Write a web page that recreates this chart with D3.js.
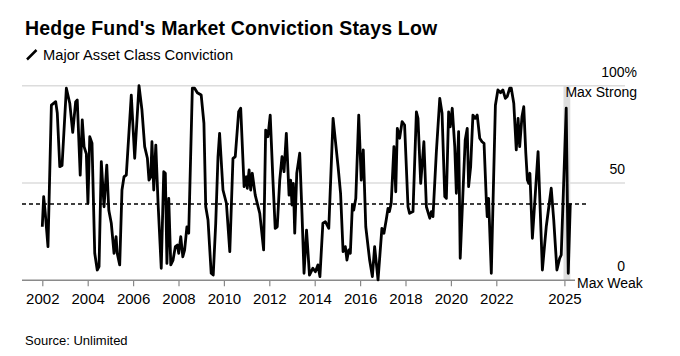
<!DOCTYPE html>
<html><head><meta charset="utf-8">
<script src="https://cdn.jsdelivr.net/npm/d3@7"></script>
<style>
body{margin:0;background:#fff;}
svg{display:block;font-family:"Liberation Sans",Arial,Helvetica,sans-serif;}
</style>
</head><body>
<svg id="chart" width="680" height="356"></svg>
<script>
// Observation dates (decimal years) and conviction values (%)
const dates = [
2002.00,2002.06,2002.13,2002.25,2002.40,2002.59,2002.66,2002.77,2002.87,2003.06,
2003.21,2003.34,2003.47,2003.54,2003.67,2003.76,2003.84,2003.94,2004.01,2004.09,
2004.19,2004.31,2004.42,2004.50,2004.60,2004.72,2004.84,2004.93,2005.04,2005.16,
2005.25,2005.30,2005.41,2005.51,2005.60,2005.70,2005.92,2006.07,2006.26,2006.39,
2006.51,2006.63,2006.70,2006.78,2006.83,2006.91,2007.00,2007.10,2007.24,2007.35,
2007.42,2007.49,2007.57,2007.66,2007.76,2007.86,2007.95,2008.01,2008.10,2008.19,
2008.27,2008.37,2008.45,2008.61,2008.71,2008.83,2009.00,2009.12,2009.20,2009.30,
2009.44,2009.53,2009.64,2009.74,2009.81,2009.96,2010.11,2010.26,2010.40,2010.50,
2010.65,2010.74,2010.89,2010.99,2011.03,2011.11,2011.18,2011.25,2011.38,2011.58,
2011.75,2011.84,2011.94,2012.04,2012.16,2012.26,2012.35,2012.46,2012.56,2012.65,
2012.75,2012.87,2012.94,2013.00,2013.06,2013.12,2013.21,2013.34,2013.44,2013.53,
2013.64,2013.77,2013.92,2014.03,2014.14,2014.23,2014.36,2014.47,2014.62,2014.81,
2015.03,2015.14,2015.25,2015.35,2015.42,2015.50,2015.57,2015.66,2015.72,2015.81,
2015.94,2016.05,2016.14,2016.25,2016.42,2016.54,2016.64,2016.79,2016.96,2017.05,
2017.15,2017.23,2017.29,2017.37,2017.49,2017.57,2017.64,2017.74,2017.85,2017.96,
2018.11,2018.18,2018.33,2018.48,2018.55,2018.67,2018.81,2018.92,2019.07,2019.14,
2019.21,2019.36,2019.51,2019.61,2019.73,2019.80,2019.90,2019.97,2020.06,2020.17,
2020.24,2020.34,2020.41,2020.53,2020.63,2020.72,2020.78,2020.87,2020.97,2021.07,
2021.16,2021.27,2021.37,2021.46,2021.56,2021.60,2021.66,2021.78,2021.96,2022.07,
2022.19,2022.29,2022.40,2022.48,2022.59,2022.66,2022.77,2022.88,2022.96,2023.03,
2023.13,2023.21,2023.30,2023.37,2023.43,2023.48,2023.59,2023.72,2023.84,2023.94,
2024.03,2024.20,2024.42,2024.53,2024.67,2024.79,2024.86,2025.08,2025.17,2025.26
];
const values = [
27.5,43,34.6,17.3,90,91.8,86,58.4,59,98.7,
91,76,91.8,92.6,54,82.4,68.7,65,39.6,73.8,
70.4,13.9,5.3,7,61,37.8,59.2,36,29.3,13.9,
22.4,13.9,7.9,46.4,53.2,54,95.2,62.7,100,87.5,
68.7,62.7,51.5,53.2,71.2,46.4,69.5,39.6,6.2,55.8,
55,8.7,42.1,7.9,10.4,17.3,18.1,13.9,22.4,12.1,
15.6,27.5,24.2,98.7,98.7,96.4,95.2,80.7,37.8,31,
3.6,2.7,29.3,63.5,75.5,46.4,39.6,14.7,62.7,63.5,
86.6,88.4,48.1,53.2,47.3,56.7,46.4,55,43.8,34.4,
15.6,77.2,73.8,84.9,51.5,26.7,27.5,51.5,63.5,55.8,
75.5,43.8,51.5,38.7,49.8,24.2,55,65.3,34.4,3.6,
25.8,2.7,6.2,4.4,7.9,1.9,29.3,30.1,26.7,83.2,
58.4,44.7,14.7,17.3,10.4,15.6,13.9,38.7,36.1,42.1,
84.9,51.5,67,27.5,10.4,1.9,17.3,0.2,26.7,24.2,
31,37,35.3,39.6,68.7,45.5,78.1,73,81.5,79.8,
37.8,34.4,35.3,86.6,83.2,49.8,71.2,37.8,31.9,35.3,
32.7,66.1,93.5,85.8,43,42.1,86.6,78.9,88.4,68.7,
44.7,76.4,11.3,44.7,72.1,78.1,48.1,58.4,84.9,83.2,
84.9,73,71.2,70.4,41.3,32.7,42.1,3.6,90,97.8,
96.4,97.8,93.5,94.4,98.7,98.7,91,67,83.2,68.7,
84,89.2,65.3,51.5,49.8,55,21.6,44.7,66.1,34.4,
5.3,27.5,47.3,31,5.3,11.3,13,88.4,3.6,39.6
];
const xTickYears = [2002,2004,2006,2008,2010,2012,2014,2016,2018,2020,2022,2025];
const yTicks = [0, 50, 100];
const yTickLabels = ["0", "50", "100%"];
const currentLevel = 39.2;
const highlightSpan = [2024.96, 2025.26];

const svg = d3.select("#chart");
const x = d3.scaleLinear().domain([2002, 2025]).range([42.3, 564.4]);
const y = d3.scaleLinear().domain([0, 100]).range([280.3, 85.7]);

// Title & subtitle
svg.append("text").attr("x", 25).attr("y", 35)
  .attr("font-size", 19.5).attr("font-weight", "bold").attr("fill", "#000")
  .attr("letter-spacing", 0.2)
  .text("Hedge Fund's Market Conviction Stays Low");
svg.append("line").attr("x1", 27).attr("y1", 59.5).attr("x2", 36.5).attr("y2", 50)
  .attr("stroke", "#000").attr("stroke-width", 2.5);
svg.append("text").attr("x", 43).attr("y", 60)
  .attr("font-size", 14.7).attr("fill", "#000")
  .text("Major Asset Class Conviction");

// Highlight band
svg.append("rect")
  .attr("x", x(highlightSpan[0])).attr("width", x(highlightSpan[1]) - x(highlightSpan[0]))
  .attr("y", y(100)).attr("height", y(0) - y(100))
  .attr("fill", "#dedede");

// Gridlines
svg.selectAll(".grid").data(yTicks.filter(d => d > 0)).enter().append("line")
  .attr("x1", 22).attr("x2", 625)
  .attr("y1", d => y(d)).attr("y2", d => y(d))
  .attr("stroke", "#dcdcdc").attr("stroke-width", 1.5);

// X axis
const xAxis = d3.axisBottom(x).tickValues(xTickYears).tickFormat(d3.format("d"))
  .tickSize(6).tickPadding(7);
const gx = svg.append("g").attr("transform", `translate(0,${y(0)})`).call(xAxis);
gx.select(".domain").remove();
gx.selectAll(".tick line").attr("stroke", "#888").attr("stroke-width", 1.2);
gx.selectAll(".tick text").attr("font-size", 15).attr("fill", "#000")
  .attr("font-family", "Liberation Sans, Arial, sans-serif");
svg.append("line").attr("x1", 22).attr("x2", 575)
  .attr("y1", y(0)).attr("y2", y(0))
  .attr("stroke", "#8a8a8a").attr("stroke-width", 1.6);

// Y labels (right)
svg.selectAll(".ylab").data(yTicks).enter().append("text")
  .attr("x", d => d === 100 ? 637 : 625)
  .attr("y", d => y(d) - 9)
  .attr("text-anchor", "end").attr("font-size", 14).attr("fill", "#000")
  .text((d, i) => yTickLabels[i]);
svg.append("text").attr("x", 637).attr("y", y(100) + 11.5)
  .attr("text-anchor", "end").attr("font-size", 14).attr("fill", "#000")
  .text("Max Strong");
svg.append("text").attr("x", 577).attr("y", y(0) + 8)
  .attr("font-size", 14).attr("fill", "#000")
  .text("Max Weak");

// Dashed current level
svg.append("line").attr("x1", 22).attr("x2", 588)
  .attr("y1", y(currentLevel)).attr("y2", y(currentLevel))
  .attr("stroke", "#000").attr("stroke-width", 1.4).attr("stroke-dasharray", "4,3");

// Line
const line = d3.line().x((d, i) => x(dates[i])).y(d => y(d));
svg.append("path").datum(values)
  .attr("d", line).attr("fill", "none")
  .attr("stroke", "#000").attr("stroke-width", 2.8)
  .attr("stroke-linejoin", "round").attr("stroke-linecap", "butt");

// Source
svg.append("text").attr("x", 25).attr("y", 345)
  .attr("font-size", 13).attr("fill", "#000")
  .text("Source: Unlimited");
</script>
</body></html>
